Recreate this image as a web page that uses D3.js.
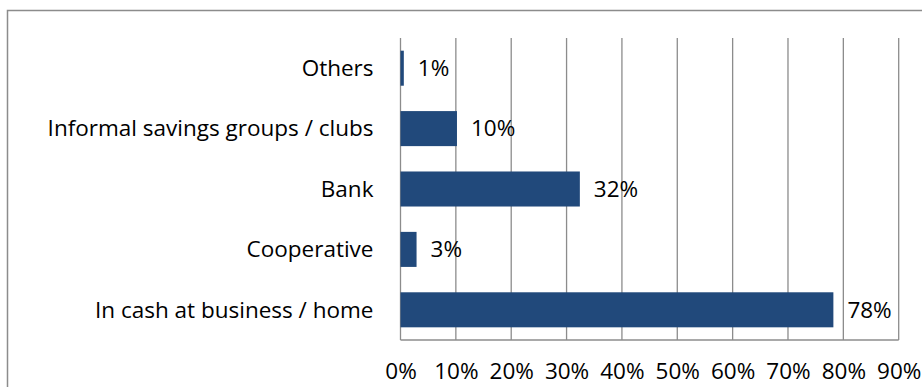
<!DOCTYPE html>
<html>
<head>
<meta charset="utf-8">
<script src="https://cdn.jsdelivr.net/npm/d3@7"></script>
<style>
  html, body { margin: 0; padding: 0; background: #fff; }
  svg { display: block; }
  text { font-family: "Open Sans", sans-serif; fill: #000; }
</style>
</head>
<body>
<svg id="chart" width="922" height="387"></svg>
<script>
// Where savings are kept (share of respondents)
const categories = ["Others", "Informal savings groups / clubs", "Bank", "Cooperative", "In cash at business / home"];
const shares = [0.6, 10.2, 32.4, 2.9, 78.2];
const tickValues = [0, 10, 20, 30, 40, 50, 60, 70, 80, 90];

const FONT = "'Open Sans', sans-serif";
const FS = 22.5;

const svg = d3.select("#chart");
const W = 922, H = 387;
const margin = { top: 38, right: 23, bottom: 47, left: 400.5 };
const plotH = H - margin.top - margin.bottom;

// outer frame
svg.append("rect")
  .attr("x", 7.5).attr("y", 10.5)
  .attr("width", W + 10).attr("height", H + 10)
  .attr("fill", "none").attr("stroke", "#8c8c8c").attr("stroke-width", 1.5);

const x = d3.scaleLinear().domain([0, 90]).range([0, 498.2]);
const y = d3.scaleBand().domain(categories).range([0, plotH]).paddingInner(0.42).paddingOuter(0.21);

const g = svg.append("g").attr("transform", `translate(${margin.left},${margin.top})`);

// vertical gridlines
g.selectAll("line.grid").data(tickValues).join("line")
  .attr("class", "grid")
  .attr("x1", d => x(d)).attr("x2", d => x(d))
  .attr("y1", 0).attr("y2", plotH)
  .attr("stroke", "#8c8c8c").attr("stroke-width", 1.3);

// baseline of the value axis
g.append("line")
  .attr("x1", 0).attr("x2", x(90))
  .attr("y1", plotH).attr("y2", plotH)
  .attr("stroke", "#8c8c8c").attr("stroke-width", 1.3);

// bars
g.selectAll("rect.bar").data(categories).join("rect")
  .attr("class", "bar")
  .attr("x", x(0))
  .attr("y", d => y(d))
  .attr("width", (d, i) => x(shares[i]) - x(0))
  .attr("height", y.bandwidth())
  .attr("fill", "#21497b");

// value labels
g.selectAll("text.val").data(categories).join("text")
  .attr("class", "val")
  .attr("x", (d, i) => x(shares[i]) + 14)
  .attr("y", d => y(d) + y.bandwidth() / 2)
  .attr("dy", "0.35em")
  .attr("font-size", FS)
  .text((d, i) => Math.round(shares[i]) + "%");

// category labels
g.selectAll("text.cat").data(categories).join("text")
  .attr("class", "cat")
  .attr("x", -27)
  .attr("y", d => y(d) + y.bandwidth() / 2)
  .attr("dy", "0.35em")
  .attr("text-anchor", "end")
  .attr("font-size", FS)
  .text(d => d);

// value axis tick labels
const xAxis = d3.axisBottom(x).tickValues(tickValues).tickSize(0).tickPadding(0)
  .tickFormat(d => d + "%");
const ax = g.append("g").attr("transform", `translate(0,${plotH + 31})`).call(xAxis);
ax.select(".domain").remove();
ax.selectAll("text").attr("dy", "0.35em").attr("font-size", FS).attr("font-family", FONT).attr("fill", "#000");
</script>
</body>
</html>
